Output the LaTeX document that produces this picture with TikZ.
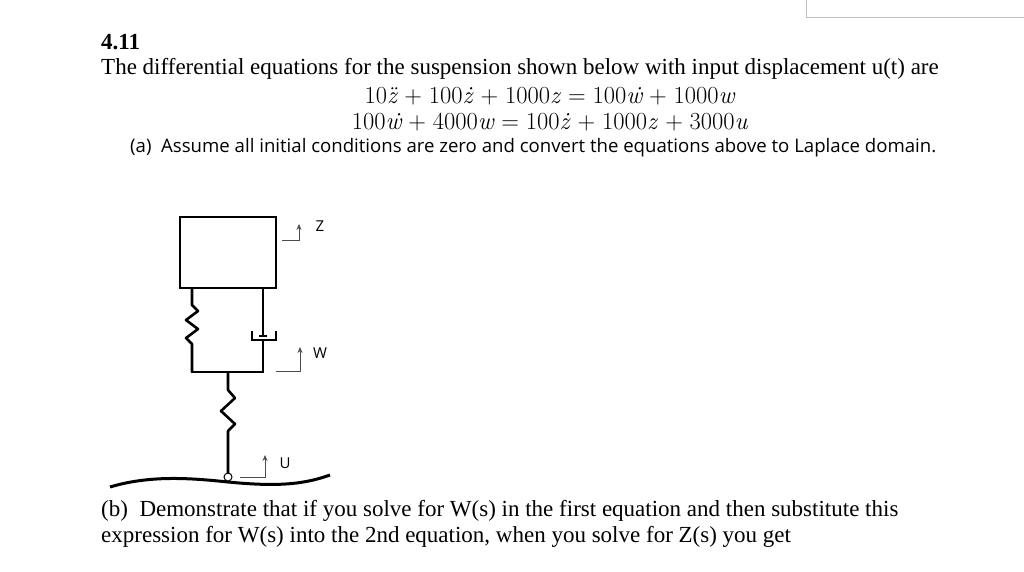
\documentclass[tikz,border=0pt]{standalone}
\usepackage{fontspec}
\usetikzlibrary{arrows.meta}
\setmainfont{Liberation Serif}
\newfontfamily\osans{Open Sans}
\newfontfamily\lmr{Latin Modern Roman}
\newcommand{\eqop}[1]{\hspace{0.28em}#1\hspace{0.28em}}
\begin{document}
\begin{tikzpicture}[x=1pt,y=-1pt,
  thick line/.style={line width=2.6pt},
  thin arrow/.style={draw=black!70,line width=0.8pt,-{Stealth[length=6pt,width=5pt]}},
  txt/.style={anchor=west,inner sep=0pt,font=\fontsize{23}{27}\selectfont},
  eqn/.style={inner sep=0pt,font=\lmr\fontsize{24.5}{28}\selectfont}]
\useasboundingbox (0,0) rectangle (1024,572);
\fill[white] (0,0) rectangle (1024,572);
\draw[black!25,line width=1pt] (806,-2) -- (806,18) -- (1026,18);
\node[txt,font=\bfseries\fontsize{23}{27}\selectfont] (num) at (101,42) {4.11};
\node[txt] (p1) at (101,69) {The differential equations for the suspension shown below with input displacement u(t) are};
\node[eqn] (e1) at (550,96) {10\textit{\"z}\eqop{+}100\textit{\.z}\eqop{+}1000\textit{z}\eqop{=}100\textit{\.w}\eqop{+}1000\textit{w}};
\node[eqn] (e2) at (550,122) {100\textit{\.w}\eqop{+}4000\textit{w}\eqop{=}100\textit{\.z}\eqop{+}1000\textit{z}\eqop{+}3000\textit{u}};
\node[anchor=west,inner sep=0pt,font=\osans\fontsize{18.6}{22}\selectfont] (pa) at (130,148) {(a)\ \ Assume all initial conditions are zero and convert the equations above to Laplace domain.};
\node[txt] (pb1) at (101,511) {(b)\ \ Demonstrate that if you solve for W(s) in the first equation and then substitute this};
\node[txt] (pb2) at (101,537) {expression for W(s) into the 2nd equation, when you solve for Z(s) you get};
% mass
\draw[thick line] (180,217) rectangle (276,288);
% left spring
\draw[thick line,line join=round] (192,288) -- (192,305) -- (198,311) -- (186,320) -- (198,329) -- (186,338) -- (192,344) -- (192,372);
% damper
\draw[thick line] (263,288) -- (263,336);
\draw[line width=1.2pt] (252,331) -- (252,340) -- (276,340) -- (276,331);
\draw[line width=1.5pt] (259,336) -- (267,336);
\draw[thick line] (263,340) -- (263,372);
% bar
\draw[thick line] (191,372) -- (264,372);
% lower spring
\draw[thick line,line join=round] (228,372) -- (228,390) -- (235,398) -- (221,411) -- (235,424) -- (228,431) -- (228,473);
% ground
\draw[line width=3pt] (110,487) .. controls (150,475) and (190,478) .. (228,482) .. controls (270,486) and (300,486) .. (330,475);
\node[circle,draw,fill=white,line width=1pt,minimum size=8pt,inner sep=0pt] (c) at (228,477) {};
% arrows
\draw[thin arrow] (282,240) -- (299,240) -- (299,224);
\node[font=\osans\fontsize{15}{17}\selectfont] (z) at (320,226) {Z};
\draw[thin arrow] (276,371) -- (300,371) -- (300,347);
\node[font=\osans\fontsize{15}{17}\selectfont] (w) at (320,353) {W};
\draw[thin arrow] (240,477) -- (265,477) -- (265,455);
\node[font=\osans\fontsize{15}{17}\selectfont] (u) at (285,463) {U};
\end{tikzpicture}
\end{document}
